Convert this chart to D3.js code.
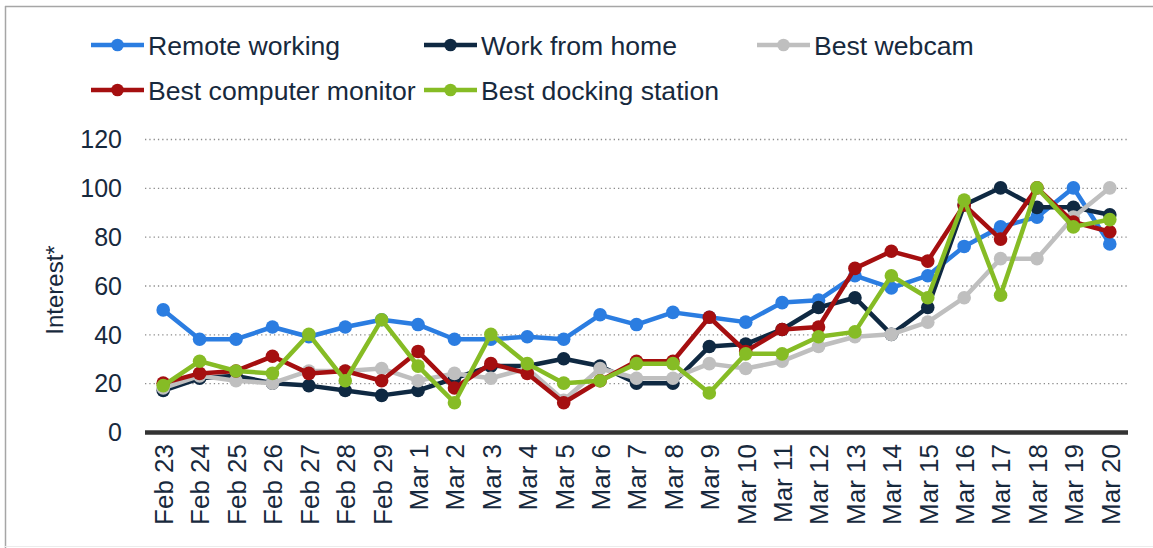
<!DOCTYPE html>
<html>
<head>
<meta charset="utf-8">
<script src="https://cdn.jsdelivr.net/npm/d3@7/dist/d3.min.js"></script>
<style>
  html, body { margin: 0; padding: 0; background: #fff; }
  svg { display: block; font-family: "Liberation Sans", Arial, sans-serif; }
</style>
</head>
<body>
<svg id="chart" width="1153" height="548"></svg>
<script>
const categories = ["Feb 23","Feb 24","Feb 25","Feb 26","Feb 27","Feb 28","Feb 29",
  "Mar 1","Mar 2","Mar 3","Mar 4","Mar 5","Mar 6","Mar 7","Mar 8","Mar 9","Mar 10",
  "Mar 11","Mar 12","Mar 13","Mar 14","Mar 15","Mar 16","Mar 17","Mar 18","Mar 19","Mar 20"];

const remoteWorking   = [50,38,38,43,39,43,46,44,38,38,39,38,48,44,49,47,45,53,54,64,59,64,76,84,88,100,77];
const workFromHome    = [17,22,23,20,19,17,15,17,22,27,27,30,27,20,20,35,36,42,51,55,40,51,93,100,92,92,89];
const bestWebcam      = [18,23,21,20,25,25,26,21,24,22,26,13,26,22,22,28,26,29,35,39,40,45,55,71,71,88,100];
const bestMonitor     = [20,24,25,31,24,25,21,33,18,28,24,12,21,29,29,47,33,42,43,67,74,70,93,79,100,86,82];
const bestDocking     = [19,29,25,24,40,21,46,27,12,40,28,20,21,28,28,16,32,32,39,41,64,55,95,56,100,84,87];

const seriesNames  = ["Remote working","Work from home","Best webcam","Best computer monitor","Best docking station"];
const seriesColors = ["#2b7de1","#0f2942","#bfbfbf","#a50f10","#86bc25"];
const yTicks = [0,20,40,60,80,100,120];

const series = [remoteWorking, workFromHome, bestWebcam, bestMonitor, bestDocking]
  .map((vals, i) => ({ name: seriesNames[i], color: seriesColors[i], values: vals }));

const svg = d3.select("#chart");
const textColor = "#17293d";

// frame
svg.append("line").attr("x1",5).attr("x2",1153).attr("y1",6.5).attr("y2",6.5)
  .attr("stroke","#a6a6a6").attr("stroke-width",1.5);
svg.append("line").attr("x1",5.5).attr("x2",5.5).attr("y1",6).attr("y2",548)
  .attr("stroke","#a6a6a6").attr("stroke-width",1.5);
svg.append("line").attr("x1",5).attr("x2",1153).attr("y1",546.5).attr("y2",546.5)
  .attr("stroke","#ececec").attr("stroke-width",1);

const plotLeft = 145, plotRight = 1128, plotTop = 139, plotBottom = 432;

const x = d3.scalePoint().domain(categories).range([plotLeft, plotRight]).padding(0.5);
const y = d3.scaleLinear().domain([0,120]).range([plotBottom, plotTop]);

// gridlines
svg.append("g").selectAll("line").data(yTicks.filter(d => d > 0)).join("line")
  .attr("x1", plotLeft).attr("x2", plotRight)
  .attr("y1", d => y(d) + 0.5).attr("y2", d => y(d) + 0.5)
  .attr("stroke","#8c8c8c").attr("stroke-width",1.3).attr("stroke-dasharray","1.3,3");

// y axis labels
const yAxis = d3.axisLeft(y).tickValues(yTicks).tickSize(0).tickPadding(0);
const yg = svg.append("g").attr("transform", `translate(122,0)`).call(yAxis);
yg.select(".domain").remove();
yg.selectAll("text").attr("fill", textColor).attr("font-size", 25)
  .attr("font-family", "'Liberation Sans', Arial, sans-serif").attr("dy","0.35em");

// y title
svg.append("text").attr("transform","translate(55,290) rotate(-90)")
  .attr("text-anchor","middle").attr("dy","0.35em")
  .attr("fill", textColor).attr("font-size", 24).text("Interest*");

// x axis
const xAxis = d3.axisBottom(x).tickSize(0).tickPadding(0);
const xg = svg.append("g").attr("transform", `translate(0,${plotBottom})`).call(xAxis);
xg.select(".domain").remove();
xg.selectAll("text")
  .attr("fill", textColor).attr("font-size", 26)
  .attr("font-family", "'Liberation Sans', Arial, sans-serif")
  .attr("text-anchor","end")
  .attr("transform","translate(0,12) rotate(-90)")
  .attr("x", 0).attr("y", 0).attr("dy","0.36em");

// axis baseline
svg.append("line").attr("x1", plotLeft).attr("x2", plotRight)
  .attr("y1", plotBottom + 0.5).attr("y2", plotBottom + 0.5)
  .attr("stroke","#333333").attr("stroke-width",4.5);

// lines and markers
const line = d3.line().x((d,i) => x(categories[i])).y(d => y(d));
series.forEach(s => {
  const g = svg.append("g");
  g.append("path").datum(s.values).attr("d", line)
    .attr("fill","none").attr("stroke", s.color).attr("stroke-width",4.5)
    .attr("stroke-linejoin","round");
  g.selectAll("circle").data(s.values).join("circle")
    .attr("cx",(d,i) => x(categories[i])).attr("cy", d => y(d))
    .attr("r", 6.8).attr("fill", s.color);
});

// legend
const legendPos = [[91,45],[424,45],[757,45],[91,90],[424,90]];
series.forEach((s, i) => {
  const [lx, ly] = legendPos[i];
  const g = svg.append("g").attr("transform", `translate(${lx},${ly})`);
  g.append("line").attr("x1",0).attr("x2",53).attr("y1",0).attr("y2",0)
    .attr("stroke", s.color).attr("stroke-width",4.5);
  g.append("circle").attr("cx",26.5).attr("cy",0).attr("r",6.3).attr("fill", s.color);
  g.append("text").attr("x",57).attr("y",0).attr("dy","0.36em")
    .attr("fill", textColor).attr("font-size",26.6).text(s.name);
});
</script>
</body>
</html>
